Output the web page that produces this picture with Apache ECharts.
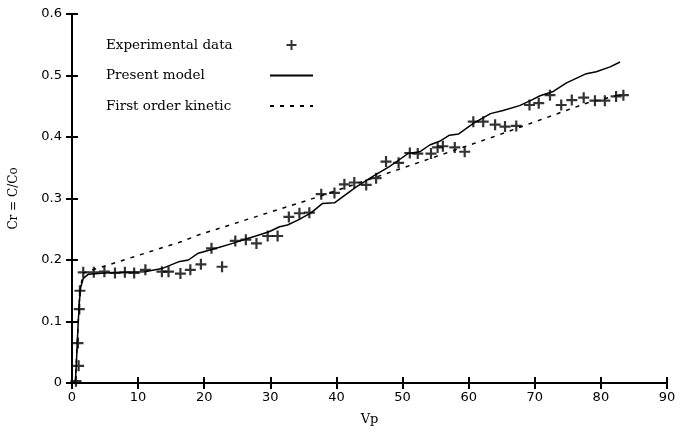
<!DOCTYPE html>
<html>
<head>
<meta charset="utf-8">
<script src="https://cdn.jsdelivr.net/npm/echarts@6/dist/echarts.min.js"></script>
<style>
  html, body { margin: 0; padding: 0; background: #fff; }
  #main { width: 681px; height: 432px; }
</style>
</head>
<body>
<div id="main"></div>
<script>
// experimental points (Vp, Cr)
var expX = [0.6, 1.0, 0.9, 1.1, 1.2, 1.7, 3.3, 4.9, 6.5, 8.0, 9.4, 11.1, 13.6, 14.6, 16.4, 17.9, 19.5, 21.1, 22.7, 24.7, 26.3, 27.9, 29.6, 31.1, 32.8, 34.4, 35.9, 37.7, 39.7, 41.2, 42.7, 44.5, 46.0, 47.5, 49.4, 51.1, 52.3, 54.3, 55.3, 56.1, 57.9, 59.4, 60.7, 62.2, 64.0, 65.5, 67.2, 69.2, 70.6, 72.3, 74.0, 75.6, 77.4, 79.1, 80.6, 82.3, 83.4];
var expY = [0.003, 0.028, 0.065, 0.12, 0.15, 0.18, 0.18, 0.181, 0.179, 0.18, 0.179, 0.184, 0.181, 0.181, 0.178, 0.184, 0.193, 0.219, 0.189, 0.231, 0.233, 0.227, 0.239, 0.239, 0.27, 0.276, 0.277, 0.307, 0.309, 0.323, 0.326, 0.322, 0.333, 0.36, 0.358, 0.374, 0.373, 0.373, 0.383, 0.385, 0.383, 0.376, 0.425, 0.425, 0.42, 0.417, 0.418, 0.452, 0.455, 0.468, 0.452, 0.46, 0.464, 0.459, 0.459, 0.466, 0.468];

// present model
var modelX = [0.5, 0.7, 0.9, 1.1, 1.3, 1.7, 2.5, 5, 8, 11, 13.6, 16.1, 17.6, 19.1, 21.8, 24.3, 26.3, 27.8, 29.8, 31.4, 32.6, 34.4, 36.2, 37.9, 39.7, 41.5, 43.0, 45.5, 48, 49.5, 50.8, 52.6, 54.1, 55.6, 57.1, 58.5, 60.7, 63.3, 65.2, 67.7, 69.5, 70.8, 72.8, 74.8, 77.8, 79.3, 81.4, 82.9];
var modelY = [0, 0.04, 0.09, 0.13, 0.155, 0.17, 0.177, 0.179, 0.18, 0.181, 0.186, 0.197, 0.2, 0.211, 0.219, 0.227, 0.234, 0.239, 0.246, 0.254, 0.257, 0.266, 0.277, 0.292, 0.293, 0.307, 0.319, 0.336, 0.352, 0.363, 0.373, 0.376, 0.387, 0.393, 0.403, 0.405, 0.422, 0.438, 0.443, 0.451, 0.46, 0.467, 0.474, 0.488, 0.503, 0.506, 0.514, 0.522];

// first order kinetic
var kinX = [0.5, 0.9, 1.2, 1.7, 16.6, 19.2, 35.9, 48.5, 64.2, 77.8, 83.4];
var kinY = [0, 0.09, 0.15, 0.179, 0.23, 0.241, 0.298, 0.344, 0.402, 0.455, 0.47];

var xTicks = [0, 90, 10];
var yTicks = [0, 0.6, 0.1];

function pairs(xs, ys) {
    return xs.map(function (x, i) { return [x, ys[i]]; });
}

var plus = 'path://M4,0h2v4h4v2h-4v4h-2v-4h-4v-2h4z';
var black = '#000';

var myChart = echarts.init(document.getElementById('main'));
myChart.setOption({
    animation: false,
    grid: { left: 72, right: 14, top: 14, bottom: 49 },
    legend: {
        orient: 'vertical',
        left: 101,
        top: 33,
        align: 'right',
        itemWidth: 43,
        itemHeight: 10,
        itemGap: 16.5,
        formatter: '{t|{name}}',
        textStyle: {
            color: black,
            rich: { t: { fontFamily: 'DejaVu Serif', fontSize: 13.5, color: black, width: 159, align: 'left' } }
        },
        data: [
            { name: 'Experimental data' },
            { name: 'Present model', itemStyle: { opacity: 0 } },
            { name: 'First order kinetic', itemStyle: { opacity: 0 } }
        ]
    },
    xAxis: [{
        type: 'value', min: xTicks[0], max: xTicks[1], interval: xTicks[2],
        name: 'Vp', nameLocation: 'middle', nameGap: 30,
        nameTextStyle: { fontFamily: 'DejaVu Serif', fontSize: 13, color: black },
        axisLine: { lineStyle: { color: black, width: 2 } },
        axisTick: { inside: true, length: 6, lineStyle: { color: black, width: 2 } },
        axisLabel: { fontFamily: 'DejaVu Sans', fontSize: 13, color: black, margin: 8 },
        splitLine: { show: false }
    }, {
        type: 'value', position: 'top', min: xTicks[0], max: xTicks[1], interval: xTicks[2],
        axisLine: { lineStyle: { color: black, width: 2 } },
        axisTick: { inside: true, length: 6, lineStyle: { color: black, width: 2 } },
        axisLabel: { show: false },
        splitLine: { show: false }
    }],
    yAxis: [{
        type: 'value', min: yTicks[0], max: yTicks[1], interval: yTicks[2],
        name: 'Cr = C/Co', nameLocation: 'middle', nameGap: 52, nameRotate: 90,
        nameTextStyle: { fontFamily: 'DejaVu Serif', fontSize: 12, color: black },
        axisLine: { lineStyle: { color: black, width: 2 } },
        axisTick: { inside: true, length: 6, lineStyle: { color: black, width: 2 } },
        axisLabel: { fontFamily: 'DejaVu Sans', fontSize: 13, color: black, margin: 10 },
        splitLine: { show: false }
    }, {
        type: 'value', position: 'right', min: yTicks[0], max: yTicks[1], interval: yTicks[2],
        axisLine: { lineStyle: { color: black, width: 2 } },
        axisTick: { inside: true, length: 6, lineStyle: { color: black, width: 2 } },
        axisLabel: { show: false },
        splitLine: { show: false }
    }],
    series: [{
        name: 'Experimental data',
        type: 'scatter',
        symbol: plus,
        symbolSize: 11,
        itemStyle: { color: black },
        z: 3,
        data: pairs(expX, expY)
    }, {
        name: 'Present model',
        type: 'line',
        symbol: 'none',
        lineStyle: { color: black, width: 1.5 },
        itemStyle: { color: black },
        data: pairs(modelX, modelY)
    }, {
        name: 'First order kinetic',
        type: 'line',
        symbol: 'none',
        lineStyle: { color: black, width: 1.5, type: [4, 6] },
        itemStyle: { color: black },
        data: pairs(kinX, kinY)
    }]
});
</script>
</body>
</html>
